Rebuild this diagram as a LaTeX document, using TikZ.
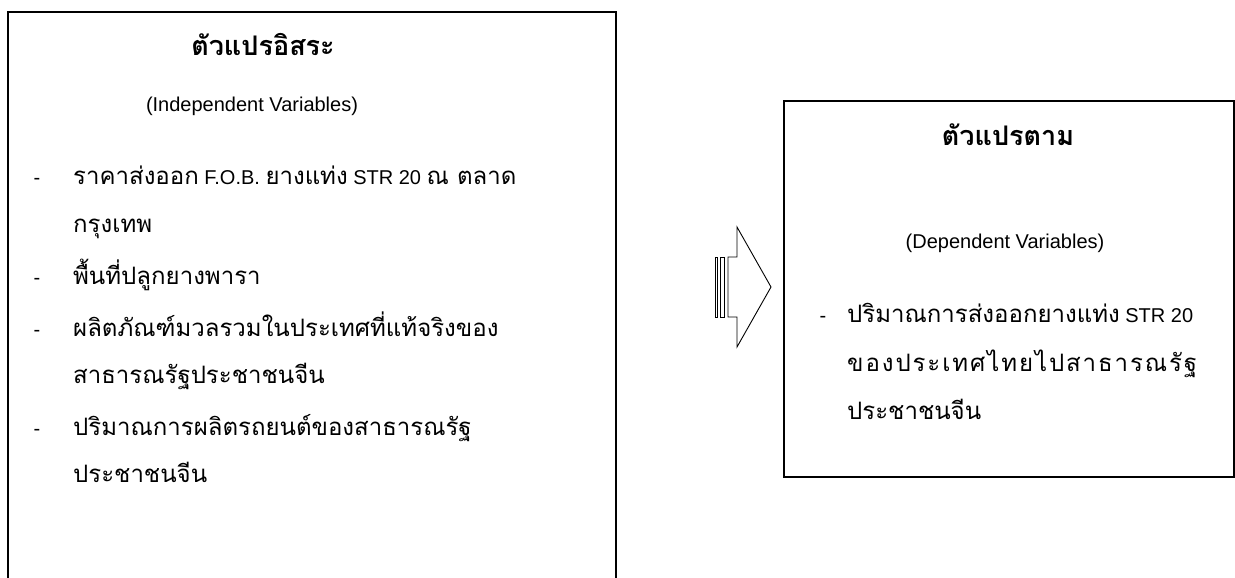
\documentclass[tikz,border=0pt]{standalone}
\usepackage{fontspec}
\setmainfont{Liberation Sans}
\newfontfamily\thai[Script=Thai]{Loma}
\newfontfamily\thaiwidefont[Script=Thai,LetterSpace=8]{Loma}
\newcommand\thx[1]{{\thai\fontsize{24}{28}\selectfont #1}}
\newcommand\thw[1]{{\thaiwidefont\fontsize{24}{28}\selectfont #1}}
\begin{document}
\begin{tikzpicture}[x=1pt,y=-1pt,
  box/.style={draw, line width=1.6pt, inner sep=0pt},
  txt/.style={inner sep=0pt, font=\fontsize{20}{24}\selectfont},
  ttl/.style={inner sep=0pt, font=\thai\bfseries\fontsize{27}{32}\selectfont},
  arr/.style={draw, line width=0.9pt, line join=miter}]
\useasboundingbox (0,0) rectangle (1235,578);
% boxes
\node[box, anchor=north west, minimum width=608pt, minimum height=640pt] (indep) at (7,11) {};
\node[box, anchor=north west, minimum width=450pt, minimum height=376pt] (dep) at (783,100) {};
% left texts
\node[ttl, anchor=base] (t1) at (263,56) {ตัวแปรอิสระ};
\node[txt, anchor=base] (s1) at (252,111) {(Independent Variables)};
\node[txt, anchor=base] (d1) at (37,184) {-};
\node[txt, anchor=base west] (l1) at (73,184) {\thx{ราคาส่งออก} F.O.B. \thx{ยางแท่ง} STR 20 \thx{ณ ตลาด}};
\node[txt, anchor=base west] (l2) at (73,232) {\thx{กรุงเทพ}};
\node[txt, anchor=base] (d2) at (37,284) {-};
\node[txt, anchor=base west] (l3) at (73,284) {\thx{พื้นที่ปลูกยางพารา}};
\node[txt, anchor=base] (d3) at (37,336) {-};
\node[txt, anchor=base west] (l4) at (73,336) {\thx{ผลิตภัณฑ์มวลรวมในประเทศที่แท้จริงของ}};
\node[txt, anchor=base west] (l5) at (73,383) {\thx{สาธารณรัฐประชาชนจีน}};
\node[txt, anchor=base] (d4) at (37,435) {-};
\node[txt, anchor=base west] (l6) at (73,435) {\thx{ปริมาณการผลิตรถยนต์ของสาธารณรัฐ}};
\node[txt, anchor=base west] (l7) at (73,482) {\thx{ประชาชนจีน}};
% right texts
\node[ttl, anchor=base] (t2) at (1008,145) {ตัวแปรตาม};
\node[txt, anchor=base] (s2) at (1005,248) {(Dependent Variables)};
\node[txt, anchor=base] (d5) at (823,322) {-};
\node[txt, anchor=base west] (r1) at (847,322) {\thx{ปริมาณการส่งออกยางแท่ง} STR 20};
\node[txt, anchor=base west] (r2) at (847,371) {\thw{ของประเทศไทยไปสาธารณรัฐ}};
\node[txt, anchor=base west] (r3) at (847,419) {\thx{ประชาชนจีน}};
% striped arrow
\draw[arr] (715,257) rectangle (717,317);
\draw[arr] (720,257) rectangle (724,317);
\draw[arr] (728,257) -- (737,257) -- (737,227) -- (771,287) -- (737,347) -- (737,317) -- (728,317) -- cycle;
\end{tikzpicture}
\end{document}
